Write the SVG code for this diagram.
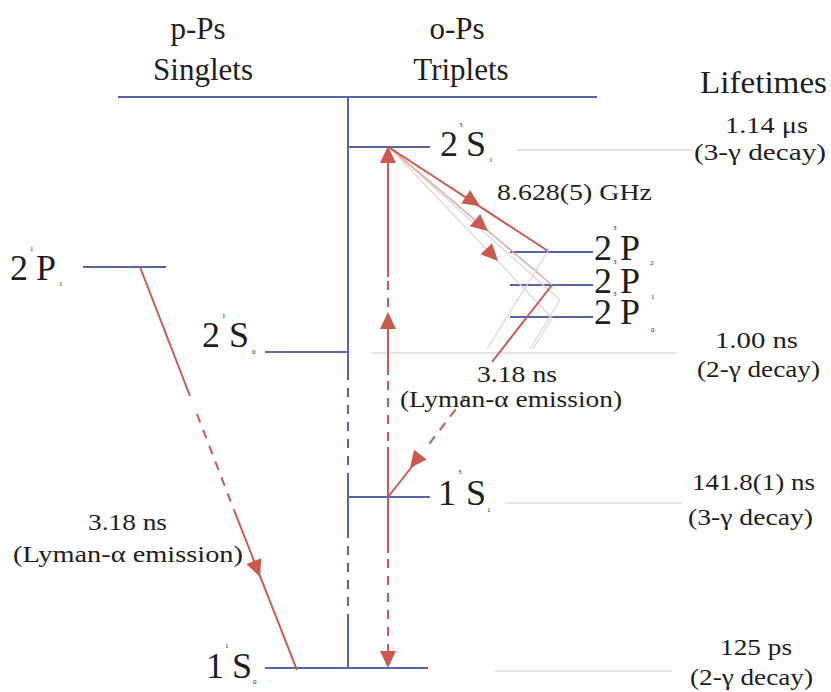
<svg xmlns="http://www.w3.org/2000/svg" width="831" height="692" viewBox="0 0 831 692" font-family="'Liberation Serif', 'Times New Roman', Times, serif">
<style>
text{font-family:'Liberation Serif','Times New Roman',Times,serif;fill:#1e1e1e}
.hdr{font-size:31px}
.lvl{font-size:36px}
.sm{font-size:7px}
.lt{font-size:23px}
.blue{stroke:#5565aa;stroke-width:2;fill:none}
.gray{stroke:#cccccc;stroke-width:1.2;fill:none}
.red{stroke:#c85a50;stroke-width:2;fill:none}
.pink{stroke:#e0a8a4;stroke-width:1.5;fill:none}
.faint{stroke:#ead0ce;stroke-width:1.2;fill:none}
.dash{stroke-dasharray:9 8}
.ah{fill:#c85a50}
</style>
<defs>
<path id="ah" d="M0,0 L-17,-8 L-17,8 Z"/>
</defs>
<rect width="831" height="692" fill="#ffffff"/>

<g id="headers">
<text class="hdr" x="198" y="39" text-anchor="middle">p-Ps</text>
<text class="hdr" x="203" y="80" text-anchor="middle">Singlets</text>
<text class="hdr" x="457" y="39" text-anchor="middle">o-Ps</text>
<text class="hdr" x="461" y="80" text-anchor="middle">Triplets</text>
<text class="hdr" x="700" y="93" textLength="127" lengthAdjust="spacingAndGlyphs">Lifetimes</text>
</g>

<g id="frame">
<line class="blue" x1="118" y1="97" x2="597" y2="97"/>
<path class="blue" d="M348,97 V380"/>
<path class="blue dash" d="M348,388 V482"/>
<path class="blue" d="M348,482 V538"/>
<path class="blue dash" d="M348,546 V612"/>
<path class="blue" d="M348,614 V668"/>
</g>

<g id="lvl-2S1-triplet">
<line class="blue" x1="347" y1="147" x2="430" y2="147"/>
<text class="lvl" x="440" y="156">2</text><text class="sm" x="459" y="127">3</text><text class="lvl" x="466" y="156">S</text><text class="sm" x="489" y="162">1</text>
</g>
<g id="lvl-2P2">
<line class="blue" x1="510" y1="252" x2="593" y2="252"/>
<text class="lvl" x="594" y="260">2</text><text class="sm" x="613" y="230">3</text><text class="lvl" x="620" y="260">P</text><text class="sm" x="650" y="265">2</text>
</g>
<g id="lvl-2P1">
<line class="blue" x1="510" y1="285" x2="593" y2="285"/>
<text class="lvl" x="594" y="293">2</text><text class="sm" x="613" y="264">3</text><text class="lvl" x="620" y="293">P</text><text class="sm" x="651" y="299">1</text>
</g>
<g id="lvl-2P0">
<line class="blue" x1="510" y1="317" x2="593" y2="317"/>
<text class="lvl" x="594" y="324">2</text><text class="sm" x="613" y="296">3</text><text class="lvl" x="620" y="324">P</text><text class="sm" x="651" y="332">0</text>
</g>
<g id="lvl-1S1">
<line class="blue" x1="347" y1="497" x2="430" y2="497"/>
<text class="lvl" x="438" y="505">1</text><text class="sm" x="458" y="474">3</text><text class="lvl" x="466" y="505">S</text><text class="sm" x="487" y="512">1</text>
</g>
<g id="lvl-2S0">
<line class="blue" x1="265" y1="352" x2="347" y2="352"/>
<text class="lvl" x="202" y="347">2</text><text class="sm" x="222" y="318">1</text><text class="lvl" x="229" y="347">S</text><text class="sm" x="252" y="354">0</text>
</g>
<g id="lvl-2P1-singlet">
<line class="blue" x1="83" y1="267" x2="166" y2="267"/>
<text class="lvl" x="10" y="280">2</text><text class="sm" x="30" y="251">1</text><text class="lvl" x="36" y="280">P</text><text class="sm" x="59" y="286">1</text>
</g>
<g id="lvl-1S0">
<line class="blue" x1="265" y1="668" x2="428" y2="668"/>
<text class="lvl" x="206" y="678">1</text><text class="sm" x="225" y="648">1</text><text class="lvl" x="232" y="678">S</text><text class="sm" x="253" y="684">0</text>
</g>

<g id="lifetimes">
<line class="gray" x1="517" y1="150" x2="693" y2="150"/>
<line class="gray" x1="372" y1="353" x2="677" y2="353"/>
<line class="gray" x1="505" y1="503" x2="682" y2="503"/>
<line class="gray" x1="495" y1="671" x2="672" y2="671"/>
<text class="lt" x="725" y="133" textLength="83" lengthAdjust="spacingAndGlyphs">1.14 μs</text>
<text class="lt" x="694" y="160" textLength="132" lengthAdjust="spacingAndGlyphs">(3-γ decay)</text>
<text class="lt" x="715" y="348" textLength="83" lengthAdjust="spacingAndGlyphs">1.00 ns</text>
<text class="lt" x="697" y="377" textLength="123" lengthAdjust="spacingAndGlyphs">(2-γ decay)</text>
<text class="lt" x="692" y="490" textLength="123" lengthAdjust="spacingAndGlyphs">141.8(1) ns</text>
<text class="lt" x="688" y="525" textLength="125" lengthAdjust="spacingAndGlyphs">(3-γ decay)</text>
<text class="lt" x="720" y="655" textLength="72" lengthAdjust="spacingAndGlyphs">125 ps</text>
<text class="lt" x="690" y="685" textLength="123" lengthAdjust="spacingAndGlyphs">(2-γ decay)</text>
</g>

<g id="connectors">
<path class="red" d="M388,163 V277"/>
<path class="red dash" d="M388,281 V312"/>
<path class="red" d="M388,327 V375"/>
<path class="red dash" d="M388,381 V447"/>
<path class="red" d="M388,447 V553"/>
<path class="red dash" d="M388,559 V652"/>
<use href="#ah" class="ah" transform="translate(388,146) rotate(-90)"/>
<use href="#ah" class="ah" transform="translate(388,312) rotate(-90)"/>
<use href="#ah" class="ah" transform="translate(388,668) rotate(90)"/>

<line class="faint" x1="390" y1="148" x2="552" y2="318"/>
<line class="faint" x1="390" y1="148" x2="560" y2="300"/>
<line class="pink" x1="390" y1="148" x2="552" y2="285"/>
<line class="red" x1="390" y1="148" x2="548" y2="251"/>
<use href="#ah" class="ah" transform="translate(480,206) rotate(33.1)"/>
<use href="#ah" class="ah" transform="translate(488,231) rotate(40.2)"/>
<use href="#ah" class="ah" transform="translate(498,261) rotate(46.4)"/>

<line class="faint" x1="548" y1="251" x2="487" y2="349"/>
<line class="faint" x1="560" y1="300" x2="530" y2="349"/>
<line class="faint" x1="552" y1="318" x2="533" y2="349"/>

<line class="red" x1="552" y1="285" x2="492" y2="362"/>
<line class="red dash" x1="466" y1="396" x2="426" y2="448"/>
<line class="red" x1="414" y1="464" x2="388" y2="497"/>
<use href="#ah" class="ah" transform="translate(410,468) rotate(127.7)"/>

<line class="red" x1="140" y1="267" x2="190" y2="396"/>
<line class="red dash" x1="197" y1="414" x2="234" y2="510"/>
<line class="red" x1="234" y1="510" x2="297" y2="670"/>
<use href="#ah" class="ah" transform="translate(260,577) rotate(68.8)"/>
</g>

<g id="labels">
<text class="lt" x="497" y="200" textLength="155" lengthAdjust="spacingAndGlyphs">8.628(5) GHz</text>
<text class="lt" x="477" y="382" textLength="80" lengthAdjust="spacingAndGlyphs">3.18 ns</text>
<text class="lt" x="400" y="407" textLength="222" lengthAdjust="spacingAndGlyphs">(Lyman-α emission)</text>
<text class="lt" x="88" y="530" textLength="79" lengthAdjust="spacingAndGlyphs">3.18 ns</text>
<text class="lt" x="13" y="562" textLength="230" lengthAdjust="spacingAndGlyphs">(Lyman-α emission)</text>
</g>
</svg>
